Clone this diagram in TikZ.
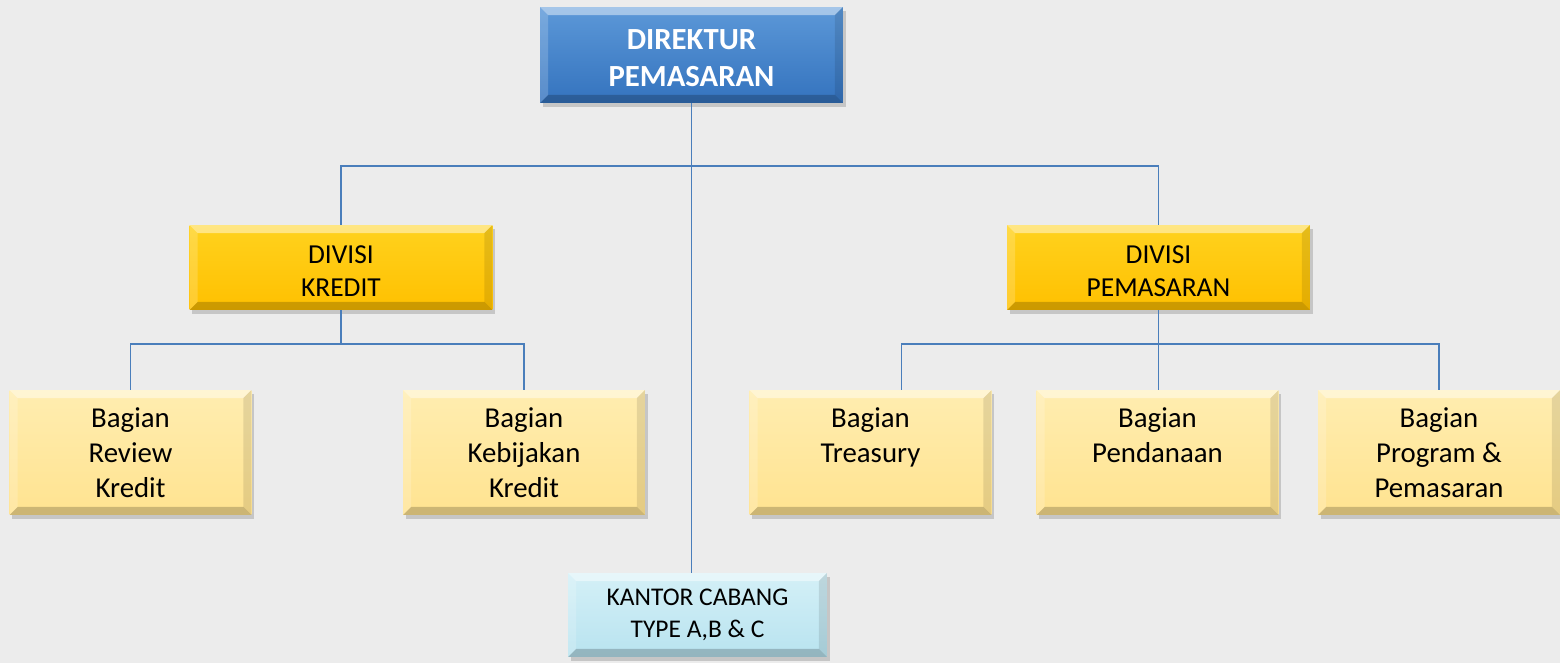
\documentclass[tikz,border=0pt]{standalone}
\usepackage{fontspec}
\setmainfont{Carlito}
\usetikzlibrary{shadows,calc}
\definecolor{bg}{HTML}{ECECEC}
\definecolor{dirblue}{HTML}{3473BE}
\definecolor{dirtop}{HTML}{5C98D8}
\definecolor{gold}{HTML}{FFC000}
\definecolor{goldtop}{HTML}{FFD21E}
\definecolor{pale}{HTML}{FFE390}
\definecolor{paletop}{HTML}{FFEDB0}
\definecolor{lblue}{HTML}{B8E3EF}
\definecolor{lbluetop}{HTML}{D4F0F7}
\definecolor{connc}{HTML}{4A7EBB}
\newcommand{\lowtext}[2]{\raisebox{-#1}[\height][\depth]{\begin{tabular}{@{}c@{}}#2\end{tabular}}}
\newcommand{\bevelpp}{%
  \coordinate (pNW) at (path picture bounding box.north west);
  \coordinate (pNE) at (path picture bounding box.north east);
  \coordinate (pSW) at (path picture bounding box.south west);
  \coordinate (pSE) at (path picture bounding box.south east);
  \fill[white,opacity=0.45] (pNW) -- (pNE) -- ([shift={(-0.16cm,-0.16cm)}]pNE) -- ([shift={(0.16cm,-0.16cm)}]pNW) -- cycle;
  \fill[white,opacity=0.18] (pNW) -- ([shift={(0.16cm,-0.16cm)}]pNW) -- ([shift={(0.16cm,0.16cm)}]pSW) -- (pSW) -- cycle;
  \fill[black,opacity=0.10] (pNE) -- (pSE) -- ([shift={(-0.16cm,0.16cm)}]pSE) -- ([shift={(-0.16cm,-0.16cm)}]pNE) -- cycle;
  \fill[black,opacity=0.20] (pSW) -- (pSE) -- ([shift={(-0.16cm,0.16cm)}]pSE) -- ([shift={(0.16cm,0.16cm)}]pSW) -- cycle;
}
\tikzset{
  orgbox/.style={rectangle, inner sep=0pt, align=center,
    drop shadow={opacity=0.35, shadow xshift=1.5pt, shadow yshift=-2pt},
    path picture={\bevelpp}},
  dirbox/.style={orgbox, minimum width=6.06cm, minimum height=1.92cm,
    top color=dirtop, bottom color=dirblue, text=white,
    font=\fontsize{17.5}{21.5}\selectfont\bfseries},
  divbox/.style={orgbox, minimum width=6.06cm, minimum height=1.7cm,
    top color=goldtop, bottom color=gold,
    font=\fontsize{15.6}{19}\selectfont},
  bagbox/.style={orgbox, minimum width=4.84cm, minimum height=2.5cm,
    top color=paletop, bottom color=pale,
    font=\fontsize{16.4}{20}\selectfont},
  kcbox/.style={orgbox, minimum width=5.18cm, minimum height=1.68cm,
    top color=lbluetop, bottom color=lblue,
    font=\fontsize{14.5}{18}\selectfont},
  connline/.style={draw=connc, line width=1.1pt}
}
\begin{document}
\begin{tikzpicture}[x=0.02cm,y=-0.02cm]
\path[use as bounding box, fill=bg] (0,0) rectangle (1560,663);

\node[dirbox] (dir) at (691.5,55) {\lowtext{3.1pt}{DIREKTUR\\PEMASARAN}};
\node[divbox] (dk) at (341,267.5) {\lowtext{3.2pt}{DIVISI\\KREDIT}};
\node[divbox] (dp) at (1158.5,267.5) {\lowtext{3.2pt}{DIVISI\\PEMASARAN}};

\node[bagbox] (rev) at (130.5,452.5) {Bagian\\Review\\Kredit};
\node[bagbox] (keb) at (524,452.5) {Bagian\\Kebijakan\\Kredit};
\node[bagbox] (tr) at (870.5,452.5) {Bagian\\Treasury\\\mbox{}};
\node[bagbox] (pen) at (1157.5,452.5) {Bagian\\Pendanaan\\\mbox{}};
\node[bagbox] (prog) at (1439,452.5) {Bagian\\Program \&\\Pemasaran};

\node[kcbox] (kc) at (697.5,615) {KANTOR CABANG\\TYPE A,B \& C};

\coordinate (bus) at (691,166);
\coordinate (sbL) at (341,344);
\coordinate (sbR) at (1158,344);

\draw[connline] (dir.south) -- (kc.north -| dir.south);
\draw[connline] (dk.north) -- (dk.north |- bus) -- (dp.north |- bus) -- (dp.north);
\draw[connline] (dk.south) -- (dk.south |- sbL);
\draw[connline] (rev.north) -- (rev.north |- sbL) -- (keb.north |- sbL) -- (keb.north);
\draw[connline] (dp.south) -- (dp.south |- pen.north);
\draw[connline] ([xshift=0.62cm]tr.north) -- ([xshift=0.62cm]tr.north |- sbR) -- (prog.north |- sbR) -- (prog.north);
\end{tikzpicture}
\end{document}
